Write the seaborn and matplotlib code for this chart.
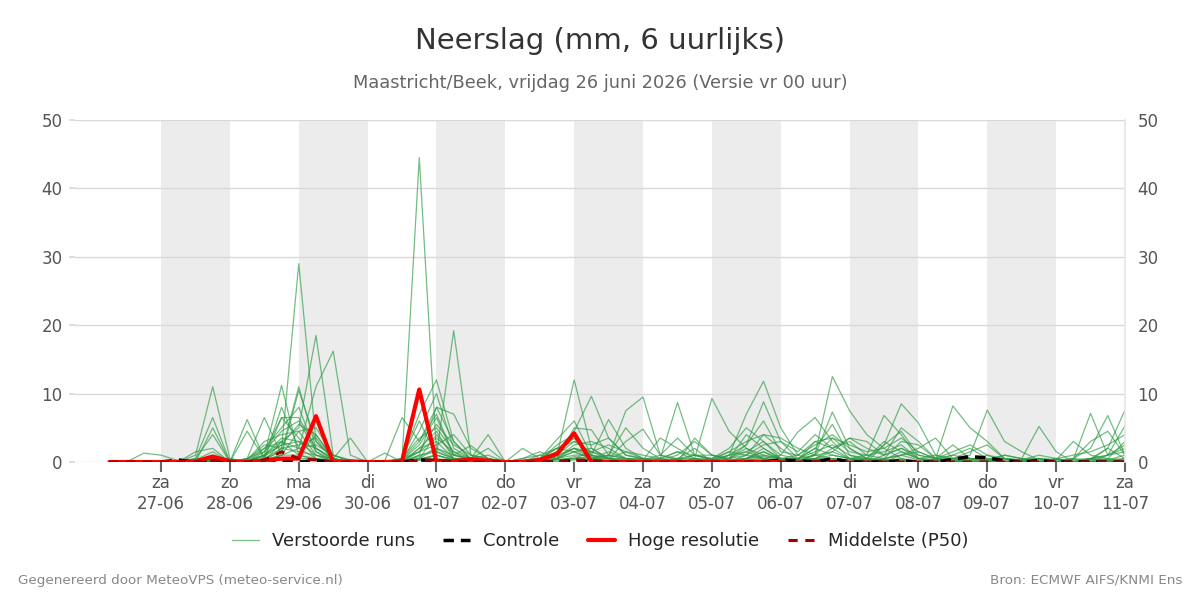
import numpy as np
import pandas as pd
import matplotlib
matplotlib.use("Agg")
import matplotlib.pyplot as plt
import seaborn as sns
from matplotlib.lines import Line2D

# 6-uurlijkse neerslag (mm), van 26-06 06 uur t/m 11-07 00 uur (60 stappen)
# per regel: 26-06 (3 waarden), dan per dag 4 waarden (00, 06, 12, 18 uur), laatste waarde 11-07 00 uur
run01 = [0, 0, 1.3,  1.0, 0.2, 0, 0.3,  0, 0, 0, 2.0,  29.0, 3.0, 0.5, 0,  0, 0, 0, 0.5,  1.0, 0.3, 0, 0,  0, 0, 0, 0.4,
         0.5, 1.5, 0.8, 7.5,  9.5, 1.0, 0.3, 0,  0, 0.2, 0.5, 1.5,  0.3, 0, 1.2, 12.5,  7.5, 4.0, 2.0, 0.5,
         0, 0.3, 0, 0,  0, 0.5, 0.2, 0,  0, 0.4, 7.1, 1.0,  2.0]
run02 = [0, 0, 0,  0, 0, 1.0, 11.0,  0.5, 0, 0, 3.0,  5.0, 18.5, 1.0, 0.2,  0, 0, 0.3, 44.5,  1.5, 0.5, 0, 0,  0, 0, 0.2, 0.5,
         2.0, 0.5, 0, 0,  0, 0.5, 8.7, 1.0,  0.3, 0, 0.5, 2.0,  0.5, 0, 1.0, 0.5,  0, 0.5, 2.5, 8.5,
         5.7, 1.0, 0.2, 0,  0, 0, 0.3, 0,  0.5, 0, 0, 0.3,  0.5]
run03 = [0, 0, 0.2,  0.2, 0, 0.5, 6.5,  0, 6.2, 0.5, 8.0,  2.0, 11.0, 16.2, 1.0,  0, 0, 0.5, 6.0,  1.0, 19.2, 1.0, 0.5,  0, 0, 0.5, 1.0,
         12.0, 2.0, 0.5, 0.3,  0, 0.2, 0, 0.5,  9.3, 4.5, 2.0, 0.5,  0, 0.3, 0.5, 1.0,  0.5, 0, 1.0, 2.0,
         1.0, 0.5, 8.2, 5.0,  3.0, 0.5, 0, 0,  0, 0.3, 0.5, 2.0,  7.6]
run04 = [0, 0, 0,  0, 0, 0, 5.0,  0, 0, 1.0, 11.2,  1.0, 4.0, 0.5, 0,  0, 0, 0.5, 7.0,  12.0, 3.0, 0.5, 4.0,  0, 0, 0.5, 1.5,
         4.5, 9.6, 3.5, 1.0,  0.5, 0, 0.3, 0,  0, 1.0, 7.0, 11.8,  5.0, 1.0, 0.3, 0,  0.5, 0.3, 0, 0.5,
         0, 0, 0.5, 1.0,  7.6, 3.0, 1.5, 0.3,  0, 0.5, 2.0, 6.8,  1.0]
run05 = [0, 0, 0,  0, 0, 0.5, 4.0,  0, 0.5, 6.5, 1.0,  10.5, 3.0, 0.5, 0,  0, 0.2, 6.5, 3.0,  8.0, 7.0, 2.0, 0.5,  0, 0.3, 0.5, 3.3,
         6.0, 1.0, 6.2, 2.0,  0.5, 0, 0.5, 1.0,  0.3, 1.0, 2.5, 8.8,  3.0, 0.5, 1.0, 7.3,  2.0, 0.5, 0.3, 0,
         0, 0.5, 1.0, 0.5,  0.3, 0, 0.5, 5.2,  1.5, 0, 0.5, 1.0,  5.3]
run06 = [0, 0, 0,  0, 0, 1.5, 2.0,  0, 4.5, 0.5, 6.5,  6.5, 2.0, 0.5, 0,  0, 0, 0.3, 4.5,  10.0, 2.0, 0.5, 1.0,  0, 0.5, 1.5, 0.5,
         5.0, 4.7, 1.0, 0.5,  0.3, 3.5, 2.0, 0.5,  0, 0.5, 1.0, 0.5,  1.0, 4.4, 6.5, 3.0,  0.5, 1.0, 6.8, 4.0,
         0.5, 0.3, 1.0, 2.0,  0.5, 0, 0.3, 0.5,  0.3, 0.5, 3.0, 4.5,  1.0]
run07 = [0, 0, 0,  0, 0, 0.3, 1.5,  0, 0.5, 2.0, 5.0,  8.0, 1.5, 0.3, 0,  0, 0, 0.5, 3.5,  5.0, 1.5, 0.5, 0,  0, 2.0, 0.5, 2.0,
         3.5, 0.5, 1.0, 5.0,  2.0, 0.5, 0, 3.5,  1.0, 0.3, 0.5, 1.0,  0.5, 0, 0.5, 1.5,  3.5, 2.0, 1.0, 5.0,
         3.0, 0.5, 2.5, 0.5,  0, 0.3, 0, 0.5,  0.3, 3.0, 1.0, 0.5,  3.0]
run08 = [0, 0, 0,  0, 0, 0, 0.8,  0, 0.3, 3.0, 4.0,  4.5, 5.0, 1.0, 0.3,  0, 0, 0.3, 2.5,  6.5, 1.0, 2.4, 0.5,  0, 0, 0.3, 0.5,
         2.5, 3.0, 2.0, 0.5,  0, 0.5, 1.5, 0.3,  0.5, 2.0, 5.0, 3.0,  1.0, 0.5, 2.0, 5.5,  1.0, 0.3, 0.5, 1.0,
         2.0, 3.5, 0.5, 0,  0.3, 1.0, 0.5, 0,  0, 0.5, 0.3, 2.0,  0.5]
run09 = [0, 0, 0,  0, 0, 0, 0.5,  0.5, 0, 1.0, 3.5,  3.0, 1.0, 0.5, 3.5,  0, 0, 0, 2.0,  3.0, 0.5, 0.5, 2.0,  0, 0, 1.0, 0.5,
         1.5, 2.0, 0.5, 3.0,  4.8, 1.0, 0.5, 0,  0.3, 1.5, 1.0, 4.0,  2.0, 0.3, 0.5, 2.0,  3.5, 3.0, 1.0, 2.0,
         0.5, 0, 0.5, 1.5,  2.5, 0.5, 0, 0,  0.5, 0, 0.5, 0.3,  0]
run10 = [0, 0, 0,  0, 0, 0, 0.5,  0, 0.3, 2.5, 2.0,  2.5, 3.5, 0.3, 0,  0, 0, 0.5, 1.5,  2.5, 4.0, 1.0, 0.5,  0, 0, 0.5, 1.0,
         3.0, 2.5, 3.5, 1.0,  0.5, 0.3, 1.0, 3.0,  1.0, 0.5, 2.5, 6.0,  1.5, 1.0, 2.5, 4.0,  2.0, 0.5, 3.0, 1.5,
         0.5, 0.3, 0, 0.5,  0.3, 0, 0, 0,  0, 0.3, 0, 0,  0.5]
run11 = [0, 0, 0,  0, 0, 0, 0.3,  0, 0, 0.5, 1.5,  11.0, 2.0, 0.3, 0,  0, 0, 0, 1.0,  8.0, 3.0, 0.3, 0,  0, 0, 0.3, 2.5,
         4.0, 0.5, 0.5, 0,  0.3, 1.0, 3.5, 1.0,  0.5, 0, 1.0, 2.5,  3.0, 1.5, 4.0, 2.0,  0.5, 0, 2.5, 4.5,
         1.0, 0.5, 0.3, 0,  0, 0, 0.5, 0.5,  0, 0, 0, 1.0,  1.5]
run12 = [0, 0, 0,  0, 0, 0, 0.2,  0, 0.5, 1.5, 6.5,  3.5, 0.5, 0, 0,  0, 0, 0, 0.5,  4.0, 1.0, 0.5, 0,  0, 0.2, 0.5, 1.0,
         2.0, 1.5, 0.5, 0.5,  0, 0, 0.5, 2.0,  0, 0.5, 4.0, 2.0,  0.5, 0.3, 3.0, 3.5,  1.5, 1.0, 0.5, 3.0,
         2.5, 0.5, 0.3, 0.2,  1.0, 0, 0, 0,  0, 0, 0, 0.3,  0]
run13 = [0, 0, 0,  0, 0, 0, 0.3,  0, 0, 0.5, 2.0,  1.5, 1.0, 0.3, 0.2,  0, 0, 0, 1.0,  1.5, 0.5, 0.5, 0.3,  0, 0, 0.3, 0.5,
         1.0, 1.0, 0.5, 0.3,  0, 0.3, 0.5, 0.5,  0, 0.3, 0.5, 1.5,  0.5, 0.3, 1.0, 1.5,  0.5, 0, 0.5, 1.0,
         0.3, 0, 0.5, 0.3,  0, 0, 0, 0,  0, 0, 0.3, 0.5,  0.3]
run14 = [0, 0, 0,  0, 0, 0.2, 0,  0, 0, 1.0, 3.0,  2.0, 2.5, 1.0, 0,  0, 0, 0.2, 1.5,  3.5, 1.5, 0, 0,  0, 0, 0, 0.5,
         1.5, 0.5, 1.5, 0.5,  0.3, 0, 0, 0.5,  0.3, 1.0, 1.5, 0.5,  0, 0.5, 2.0, 1.0,  0.5, 0.5, 0, 1.0,
         1.5, 0.5, 0, 0,  0, 0.5, 0.3, 0,  0, 0, 0.3, 0,  0]
run15 = [0, 0, 0,  0, 0, 0, 0,  0, 0, 0.3, 1.0,  2.0, 0.5, 0, 0,  0, 0, 0, 0.5,  2.0, 0.5, 0.3, 0,  0, 0, 0.2, 0.3,
         0.5, 0.8, 0, 0,  0, 0.3, 0.3, 0,  0, 0, 0.5, 0.8,  0.3, 0, 0.5, 0.5,  0, 0, 0.3, 0.3,
         0, 0, 0, 0,  0, 0, 0, 0.3,  0.3, 0, 0, 0,  0]
run16 = [0, 0, 0,  0, 0, 0, 0.5,  0, 0, 2.0, 3.0,  1.0, 0.3, 0, 0,  0, 0, 0, 0.3,  1.0, 0.3, 0, 0,  0, 0, 0, 0,
         0.8, 0.3, 0, 0,  0, 0, 0, 0,  0, 0, 0.3, 0.5,  0, 0, 0.3, 0.5,  0, 0, 0, 0.3,
         0, 0, 0, 0,  0, 0, 0, 0,  0, 0, 0, 0,  0]
run17 = [0, 0, 0,  0, 0, 0, 0,  0, 0, 0.5, 0.5,  0.5, 0.5, 0.3, 0,  0, 1.3, 0, 0.3,  0.5, 0, 0, 0,  0, 0, 0, 0,
         0.3, 0.5, 0, 0,  0, 0, 0, 0,  0, 0, 0, 0.3,  0.3, 0, 0, 0.3,  0, 0, 0, 0,
         0, 0, 0, 0,  0, 0, 0, 0,  0, 0, 0, 0,  0]
run18 = [0, 0, 0,  0, 0, 0, 0,  0, 0, 0, 1.0,  4.5, 1.0, 0, 0,  0, 0, 0, 2.0,  4.5, 0.5, 0, 0,  0, 0, 0, 1.5,
         3.5, 1.0, 0, 0,  0, 0, 0, 0,  0, 0, 0, 0,  0, 0, 0, 0,  0.5, 0.3, 0, 0,
         0, 0, 0, 0,  0, 0, 0, 0,  0, 0, 0, 0,  0]
run19 = [0, 0, 0,  0, 0, 0, 1.0,  0, 0, 1.5, 4.5,  6.0, 1.5, 0, 0,  0, 0, 0, 1.5,  5.5, 2.5, 1.0, 0,  0, 0.5, 1.0, 2.0,
         3.0, 1.5, 2.5, 1.5,  1.0, 0.5, 1.5, 1.0,  0.5, 1.5, 3.0, 4.0,  3.5, 2.0, 1.0, 3.5,  2.5, 1.5, 2.0, 3.5,
         1.5, 0.5, 1.5, 2.5,  1.0, 0.5, 0.3, 1.0,  0.5, 1.0, 1.5, 2.5,  4.0]
run20 = [0, 0, 0,  0, 0, 0, 0.3,  0, 0.3, 1.0, 2.5,  5.5, 4.0, 0.5, 0,  0, 0, 0.3, 3.0,  7.0, 1.0, 0.3, 0,  0, 0, 0.5, 2.0,
         1.5, 0.5, 1.0, 0.5,  0.5, 0.5, 0, 0.5,  0.3, 0.5, 1.5, 3.0,  0.5, 1.0, 3.0, 2.0,  3.0, 1.0, 1.5, 2.5,
         0.5, 1.0, 0.5, 0.5,  0.3, 1.0, 0.5, 0,  0.5, 0, 0.5, 1.0,  2.5]
run21 = [0, 0, 0,  0, 0, 0, 0.2,  0, 0, 0.8, 2.5,  3.0, 2.0, 0.5, 0,  0, 0, 0, 0.8,  2.0, 1.0, 0.5, 0.3,  0, 0, 0.3, 0.8,
         2.0, 1.0, 0.5, 1.5,  0.5, 0, 0.3, 1.0,  1.0, 0.5, 2.0, 1.0,  0.5, 0.5, 1.5, 2.5,  1.0, 0.5, 0.3, 1.5,
         0.5, 0.3, 0, 0.3,  0.5, 0, 0, 0.5,  0, 0, 0.5, 0.3,  1.0]
run22 = [0, 0, 0,  0, 0, 0, 0,  0, 0, 0.3, 1.0,  1.0, 0.5, 0, 0,  0, 0, 0, 0.3,  1.0, 0.3, 0, 0,  0, 0, 0, 0.3,
         0.5, 0.3, 0.3, 0,  0, 0, 0, 0.3,  0, 0, 0.3, 0.5,  0.3, 0, 0.3, 0.5,  0.3, 0, 0.3, 0.3,
         0, 0, 0, 0,  0, 0, 0, 0,  0, 0, 0, 0,  0]

controle = [0, 0, 0,  0, 0.3, 0, 0.3,  0, 0, 0.2, 0.3,  0, 0.2, 0, 0,  0, 0, 0, 0.3,  0.2, 0, 0, 0,  0, 0, 0, 0,
            0.2, 0, 0, 0,  0, 0, 0, 0,  0, 0, 0, 0,  0.3, 0.2, 0, 0.5,  0, 0, 0, 0.2,
            0, 0, 0.4, 0.8,  0.6, 0.2, 0, 0.2,  0, 0, 0, 0,  0]
middelste = [0, 0, 0,  0, 0, 0, 0.2,  0, 0, 0.3, 1.5,  0.5, 0.3, 0, 0,  0, 0, 0, 0.2,  0.3, 0.1, 0, 0,  0, 0, 0, 0.1,
             0.3, 0.2, 0.1, 0,  0, 0, 0, 0,  0, 0, 0, 0.1,  0, 0, 0.1, 0.1,  0, 0, 0, 0,
             0, 0, 0, 0,  0, 0, 0, 0,  0, 0, 0, 0,  0]
# hoge resolutie loopt tot 06-07 00 uur (40 stappen)
hoge_resolutie = [0, 0, 0,  0, 0, 0.1, 0.8,  0.1, 0, 0.2, 0.5,  0.5, 6.7, 0, 0.1,  0, 0, 0.1, 10.6,  0, 0.1, 0.4, 0.2,
                  0, 0, 0.3, 1.2,  4.2, 0, 0, 0,  0, 0, 0, 0,  0, 0, 0, 0,  0]

dagen = ["ma", "di", "wo", "do", "vr", "za", "zo"]

runs = [run01, run02, run03, run04, run05, run06, run07, run08, run09, run10, run11,
        run12, run13, run14, run15, run16, run17, run18, run19, run20, run21, run22]

tijden = pd.date_range("2026-06-26 06:00", periods=60, freq="6h")

df = pd.DataFrame({
    "tijd": np.tile(tijden, len(runs)),
    "mm": np.concatenate(runs),
    "run": np.repeat(np.arange(len(runs)), len(tijden)),
})

sns.set_theme(style="white")
plt.rcParams["font.family"] = ["DejaVu Sans"]

fig = plt.figure(figsize=(12, 6), dpi=100)
ax = fig.add_axes([0.0625, 0.23, 0.875, 0.57])

# grijze banden om de dag
for d in pd.date_range("2026-06-27", "2026-07-09", freq="2D"):
    ax.axvspan(d, d + pd.Timedelta(days=1), color="#ececec", lw=0, zorder=0)

sns.lineplot(data=df, x="tijd", y="mm", units="run", estimator=None,
             color="#2a9a40", alpha=0.65, lw=0.9, legend=False, ax=ax, zorder=2)
sns.lineplot(x=tijden, y=controle, color="black", lw=2.5, ls=(0, (3, 2)), ax=ax, zorder=3)
sns.lineplot(x=tijden[:len(hoge_resolutie)], y=hoge_resolutie, color="#ff0000", lw=3, ax=ax, zorder=4)
sns.lineplot(x=tijden, y=middelste, color="#a00000", lw=2.2, ls=(0, (3, 2.5)), ax=ax, zorder=5)

ax.set_xlim(pd.Timestamp("2026-06-25 18:00"), pd.Timestamp("2026-07-11 00:00"))
ax.set_ylim(0, 50)
ax.set_yticks(range(0, 51, 10))
ax.set_xlabel("")
ax.set_ylabel("")

ticks = pd.date_range("2026-06-27", "2026-07-11", freq="D")
ax.set_xticks(ticks)
ax.set_xticklabels([f"{dagen[t.weekday()]}\n{t:%d-%m}" for t in ticks])

ax.yaxis.grid(True, color="#d9d9d9", lw=1)
ax.xaxis.grid(False)
for s in ["left", "top", "bottom"]:
    ax.spines[s].set_visible(False)
ax.spines["right"].set_color("#e6e6e6")

ax.tick_params(axis="x", bottom=True, length=7, width=1.5, color="#666666",
               labelsize=12, labelcolor="#555555", pad=1.5)
ax.tick_params(axis="y", left=True, right=False, labelleft=True, labelright=True,
               length=4, color="#d9d9d9", labelsize=12, labelcolor="#555555", pad=5)

fig.text(0.5, 0.932, "Neerslag (mm, 6 uurlijks)", ha="center", va="center",
         fontsize=21, color="#333333")
fig.text(0.5, 0.861, "Maastricht/Beek, vrijdag 26 juni 2026 (Versie vr 00 uur)",
         ha="center", va="center", fontsize=12.8, color="#666666")

handles = [
    Line2D([], [], color="#2a9a40", alpha=0.6, lw=1),
    Line2D([], [], color="black", lw=2.5, ls=(0, (3, 2))),
    Line2D([], [], color="#ff0000", lw=3),
    Line2D([], [], color="#a00000", lw=2.2, ls=(0, (3, 2.5))),
]
fig.legend(handles, ["Verstoorde runs", "Controle", "Hoge resolutie", "Middelste (P50)"],
           loc="center", bbox_to_anchor=(0.5, 0.098), ncol=4, frameon=False,
           fontsize=13, handlelength=1.5, handletextpad=0.7, columnspacing=1.6)

fig.text(0.015, 0.033, "Gegenereerd door MeteoVPS (meteo-service.nl)", ha="left",
         va="center", fontsize=9.7, color="#888888")
fig.text(0.985, 0.033, "Bron: ECMWF AIFS/KNMI Ens", ha="right", va="center",
         fontsize=9.7, color="#888888")

fig.savefig("out.png", dpi=100)
